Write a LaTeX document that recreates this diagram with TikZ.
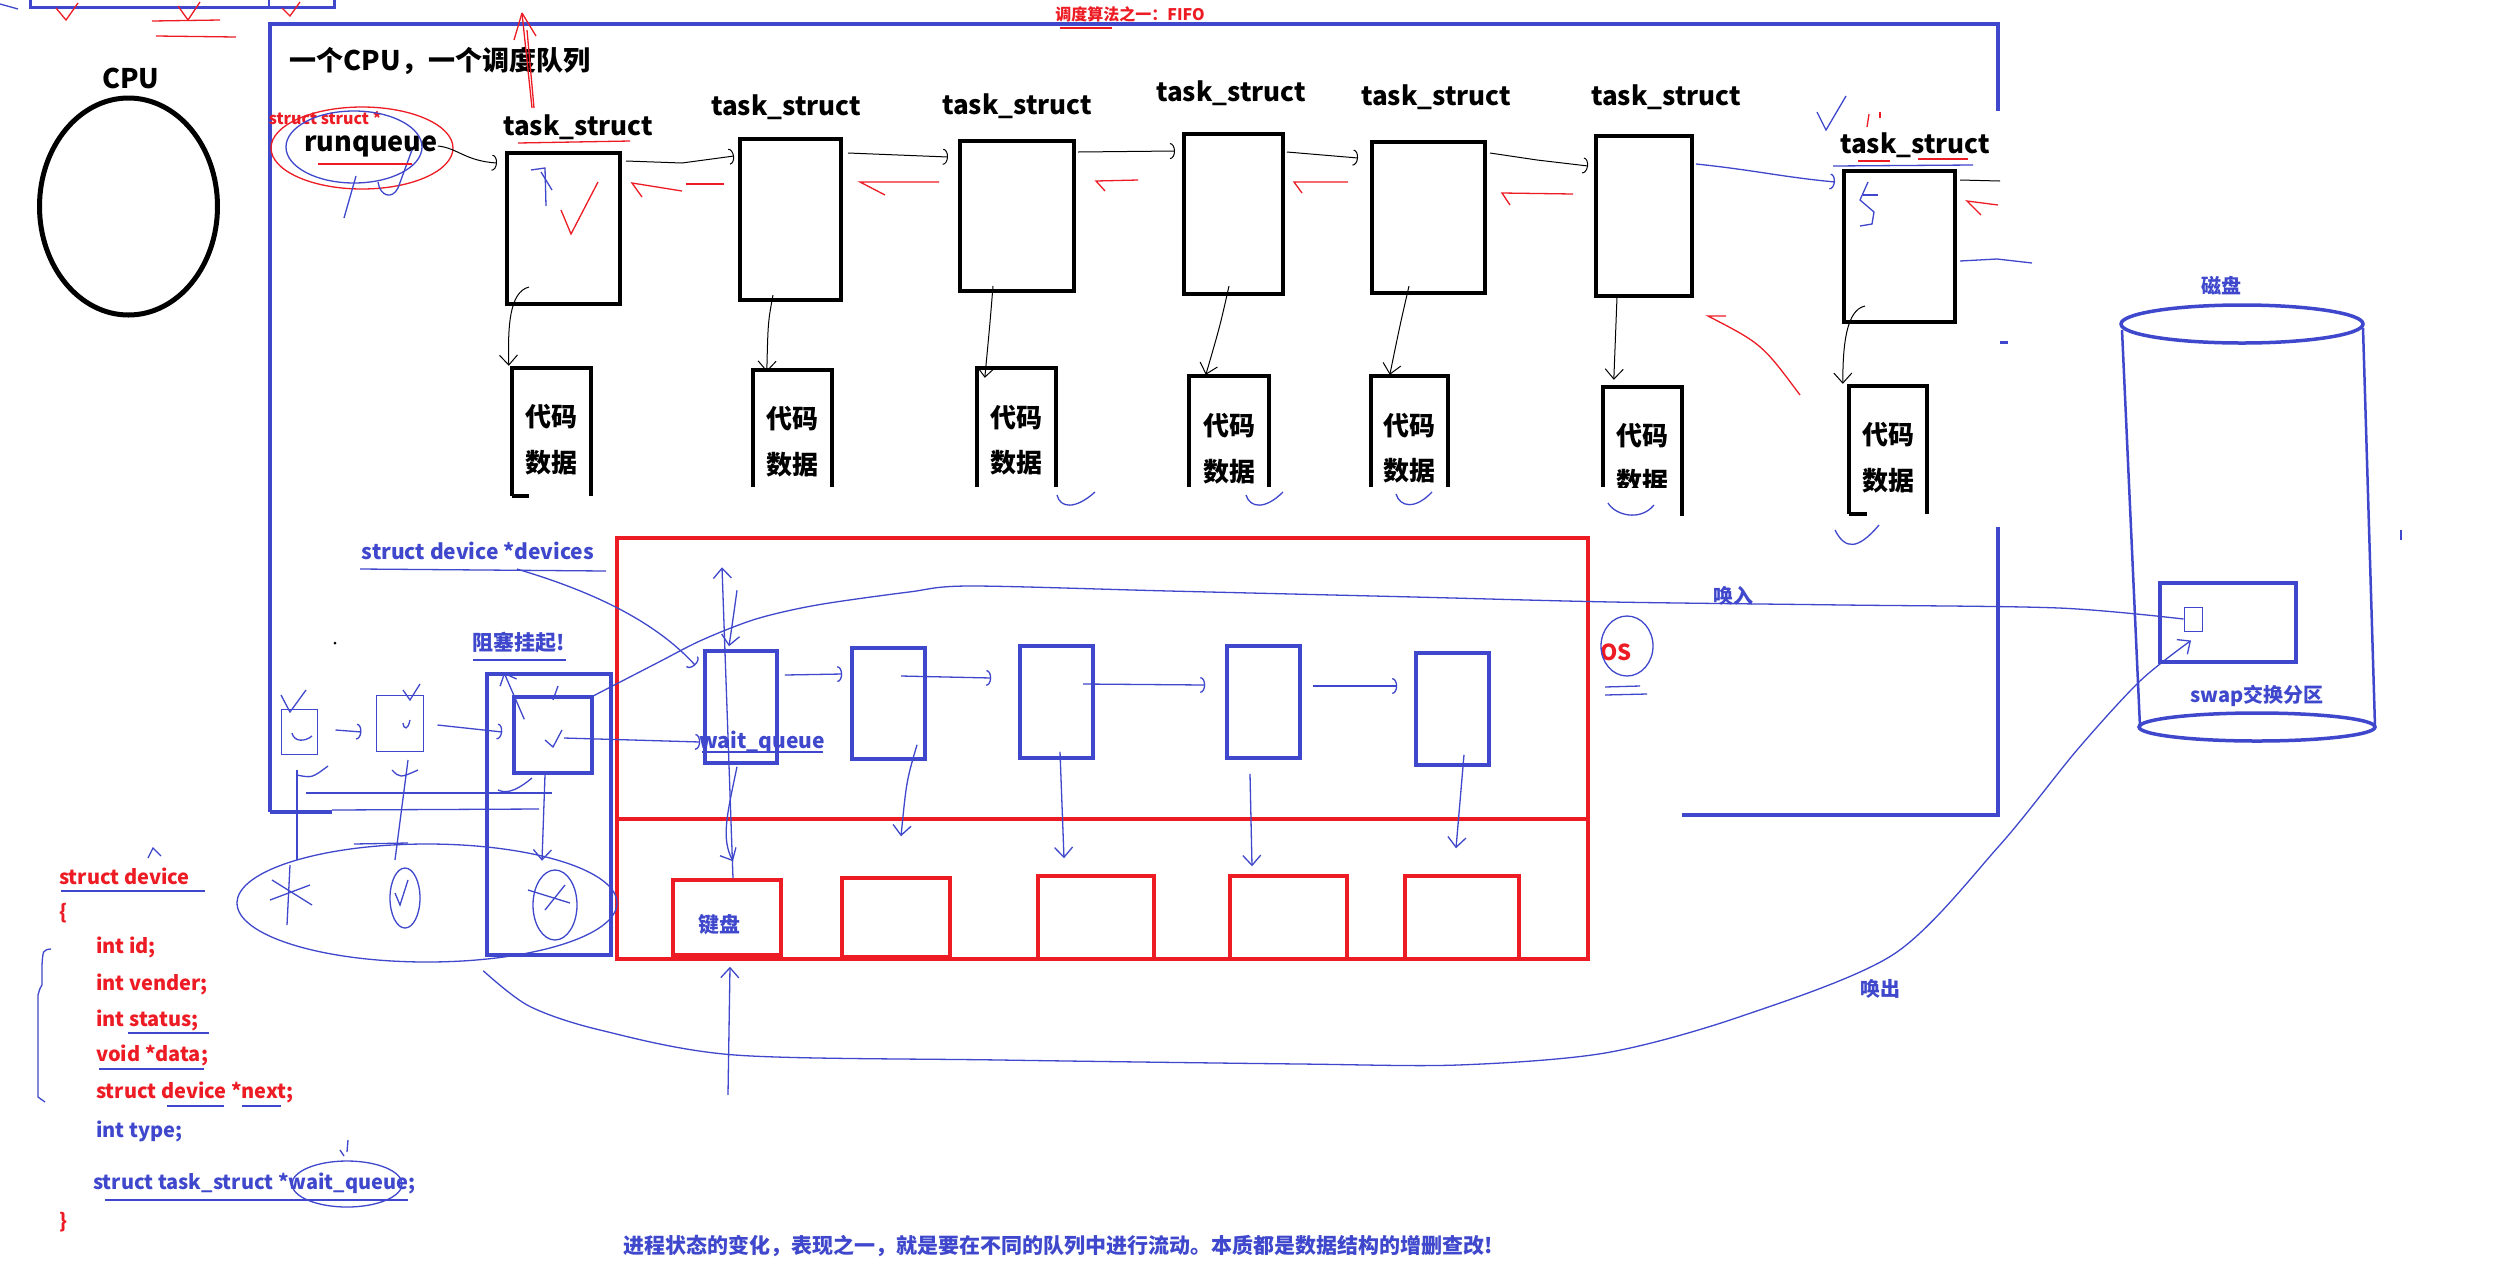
\documentclass[tikz,border=0pt]{standalone}
\usepackage{fontspec}
\setmainfont{Noto Sans CJK SC}
\usetikzlibrary{arrows.meta,calc,shapes.geometric}
\definecolor{pblue}{RGB}{63,72,204}
\definecolor{pred}{RGB}{237,28,36}
\newcommand\fpx[1]{\fontsize{#1pt}{#1pt}\selectfont}
\tikzset{
  blk/.style={draw=black, line width=1pt},
  thinb/.style={draw=pblue, line width=1.3pt},
  thinr/.style={draw=pred, line width=1.3pt},
  ah/.style={-{Arc Barb[length=5pt,width=16pt]}},
  vh/.style={-{Straight Barb[length=10pt,width=18pt]}},
  tbox/.style={draw=black, line width=4pt, inner sep=0pt},
  cbox/.style={draw=black, line width=3.5pt},
  bbox/.style={draw=pblue, line width=3.5pt, inner sep=0pt},
  rbox/.style={draw=pred, line width=3.5pt, inner sep=0pt},
  frame/.style={draw=pblue, line width=3.5pt},
  lbl/.style={font=\fpx{26}\bfseries, text=black, inner sep=0pt},
  cd/.style={font=\fpx{26}\bfseries, text=black, inner sep=0pt},
  bl/.style={font=\fpx{21}\bfseries, text=pblue, inner sep=0pt},
  code/.style={font=\fpx{20}\bfseries, inner sep=0pt, anchor=west},
  hole/.style={inner sep=0pt},
}
\begin{document}
\begin{tikzpicture}[x=1pt,y=-1pt]
\fill[white] (0,0) rectangle (2506,1270);
\useasboundingbox (0,0) rectangle (2506,1270);

% ---------- top-left fragment ----------
\draw[pblue, line width=3pt] (30,0) -- (30,7) -- (334,7) -- (334,0);
\draw[pblue, line width=2pt] (269,0) -- (269,7);
\draw[thinb] (0,4) -- (18,9);
\draw[thinr] (56,8) -- (66,20) -- (78,3);
\draw[thinr] (178,6) -- (188,20) -- (200,2);
\draw[thinr] (282,8) -- (290,16) -- (300,2);
\draw[thinr] (152,21) -- (220,20);
\draw[thinr] (156,36) -- (236,37);

% ---------- CPU ----------
\node[lbl, font=\fpx{27}\bfseries] (cpu) at (131,78) {CPU};
\node[draw=black, line width=5pt, ellipse, inner sep=0pt, minimum width=178pt, minimum height=217pt] (cpuE) at (128.5,206.5) {};

% ---------- big blue frame ----------
\draw[frame] (270,812) -- (270,24) -- (1998,24) -- (1998,111);
\draw[frame] (1998,527) -- (1998,815) -- (1682,815);
\draw[frame] (270,812) -- (332,812);
\draw[pblue, line width=3pt] (2000,342) -- (2008,342);
\draw[pblue, line width=2pt] (2401,530) -- (2401,540);

\node[font=\fpx{16}\bfseries, text=pred, inner sep=0pt] (fifo) at (1130,14) {调度算法之一：FIFO};
\draw[thinr] (1060,28) -- (1112,28);

\node[lbl, font=\fpx{27}\bfseries] (title) at (440,61) {一个CPU，一个调度队列};

% ---------- runqueue ----------
\node[lbl, font=\fpx{27}\bfseries] (rq) at (371,146) {runqueue};
\node[font=\fpx{16}\bfseries, text=pred, inner sep=0pt] (ss) at (325,118) {struct struct *};
\draw[thinr] (362,148) ellipse [x radius=91pt, y radius=41pt];
\draw[thinb] (354,147) ellipse [x radius=68pt, y radius=36pt];
\draw[thinb] (344,218) -- (356,176);
\draw[thinb] (378,182) .. controls (380,196) and (392,200) .. (398,188) -- (412,150);
\draw[thinr] (318,164) -- (412,164);

% ---------- task_structs ----------
\node[tbox, minimum width=113pt, minimum height=151pt] (T1) at (563.5,228.5) {};
\node[tbox, minimum width=101pt, minimum height=161pt] (T2) at (790.5,219.5) {};
\node[tbox, minimum width=114pt, minimum height=150pt] (T3) at (1017,216) {};
\node[tbox, minimum width=99pt, minimum height=160pt] (T4) at (1233.5,214) {};
\node[tbox, minimum width=113pt, minimum height=151pt] (T5) at (1428.5,217.5) {};
\node[tbox, minimum width=96pt, minimum height=160pt] (T6) at (1644,216) {};
\node[tbox, minimum width=111pt, minimum height=151pt] (T7) at (1899.5,246.5) {};

\node[lbl] (L1) at (578,127) {task\_struct};
\node[lbl] (L2) at (786,107) {task\_struct};
\node[lbl] (L3) at (1017,106) {task\_struct};
\node[lbl] (L4) at (1231,93) {task\_struct};
\node[lbl] (L5) at (1436,97) {task\_struct};
\node[lbl] (L6) at (1666,97) {task\_struct};
\node[lbl] (L7) at (1915,145) {task\_struct};
\draw[thinr] (518,143) -- (630,141);
\draw[thinb] (1833,166) -- (1973,165);
\draw[thinr] (1858,161) -- (1890,161);
\draw[thinr] (1918,159) -- (1968,159);
\draw[thinb] (1817,112) -- (1826,130) -- (1846,96);
\draw[thinr] (1867,127) -- (1869,114);
\draw[thinr] (1880,112) -- (1880,118);

% red arrow scribble above T1
\draw[thinr] (532,108) -- (522,13);
\draw[thinr] (522,13) -- (536,36);
\draw[thinr] (522,13) -- (514,40);
\draw[thinr] (527,30) -- (534,108);

% checks inside boxes
\draw[thinb] (531,170) -- (545,168) -- (546,206);
\draw[thinb] (541,172) -- (552,190);
\draw[thinr] (561,210) -- (571,234) -- (598,182);
\draw[thinb] (1868,182) -- (1860,200) -- (1874,212) -- (1872,224) -- (1860,226);
\draw[thinb] (1863,195) -- (1878,195);

% runqueue -> T1
\draw[blk, ah] (rq.east) .. controls ($(rq.east)+(20,2)$) and ($(T1.north west)+(-40,10)$) .. ($(T1.north west)+(-8,12)$);

% forward links
\draw[blk, ah] ($(T1.north east)+(4,10)$) -- ($(T1.north east)+(60,12)$) -- ($(T2.north west)+(-4,19)$);
\draw[blk, ah] ($(T2.north east)+(5,16)$) -- ($(T3.north west)+(-10,18)$);
\draw[blk, ah] ($(T3.north east)+(2,13)$) -- ($(T4.north west)+(-7,19)$);
\draw[blk, ah] ($(T4.north east)+(2,20)$) -- ($(T5.north west)+(-12,18)$);
\draw[blk, ah] ($(T5.north east)+(3,13)$) -- ($(T5.north east)+(50,20)$) -- ($(T6.north west)+(-6,32)$);
\draw[thinb, ah] ($(T6.north east)+(2,30)$) .. controls ($(T6.north east)+(60,36)$) and ($(T7.north west)+(-60,8)$) .. ($(T7.north west)+(-7,13)$);
\draw[blk] ($(T7.north east)+(3,11)$) -- ($(T7.north east)+(43,12)$);
\draw[thinb] ($(T7.north east)+(3,92)$) -- ($(T7.north east)+(40,90)$) -- ($(T7.north east)+(75,94)$);

% backward red links
\draw[thinr] ($(T2.north west)+(-14,47)$) -- ($(T2.north west)+(-52,47)$);
\draw[thinr] ($(T2.north west)+(-56,54)$) -- ($(T1.north east)+(10,32)$) -- ++(10,14);
\draw[thinr] ($(T3.north west)+(-19,43)$) -- ($(T2.north east)+(17,45)$) -- ++(25,13);
\draw[thinr] ($(T4.north west)+(-44,48)$) -- ($(T3.north east)+(20,42)$) -- ++(9,10);
\draw[thinr] ($(T5.north west)+(-22,42)$) -- ($(T4.north east)+(9,50)$) -- ++(8,11);
\draw[thinr] ($(T6.north west)+(-21,60)$) -- ($(T5.north east)+(15,53)$) -- ++(8,12);
\draw[thinr] ($(T7.north east)+(41,36)$) -- ($(T7.north east)+(10,32)$) -- ++(14,14);
\draw[thinr] ($(T7.south west)+(-42,71)$) .. controls ($(T7.south west)+(-80,20)$) .. ($(T7.south west)+(-134,-8)$) -- ++(18,0);

% ---------- code / data boxes ----------
\node[hole, minimum width=79pt, minimum height=128pt] (C1) at (551.5,432) {};
\node[hole, minimum width=79pt, minimum height=117pt] (C2) at (792.5,428.5) {};
\node[hole, minimum width=79pt, minimum height=119pt] (C3) at (1016.5,427.5) {};
\node[hole, minimum width=80pt, minimum height=111pt] (C4) at (1229,431.5) {};
\node[hole, minimum width=77pt, minimum height=111pt] (C5) at (1409.5,431.5) {};
\node[hole, minimum width=79pt, minimum height=100pt] (C6) at (1642.5,437) {};
\node[hole, minimum width=78pt, minimum height=128pt] (C7) at (1888,450) {};
\foreach \c in {C1,C2,C3,C4,C5,C6,C7}{
  \draw[cbox] (\c.south west) -- (\c.north west) -- (\c.north east) -- (\c.south east);
}
\draw[cbox] (C1.south west) -- ++(17,0);
\draw[cbox] (C7.south west) -- ++(18,0);
\draw[cbox] (C6.south east) -- ++(0,29);

\node[cd] (C1a) at (551.5,417) {代码};  \node[cd] (C1b) at (551.5,463) {数据};
\node[cd] (C2a) at (792.5,419) {代码};  \node[cd] (C2b) at (792.5,465) {数据};
\node[cd] (C3a) at (1016.5,418) {代码}; \node[cd] (C3b) at (1016.5,463) {数据};
\node[cd] (C4a) at (1229,426) {代码};   \node[cd] (C4b) at (1229,472) {数据};
\node[cd] (C5a) at (1409.5,426) {代码}; \node[cd] (C5b) at (1409.5,471) {数据};
\node[cd] (C6a) at (1642.5,436) {代码};
\begin{scope}
  \clip (1590,440) rectangle (1700,487);
  \node[cd] (C6b) at (1642.5,482) {数据};
\end{scope}
\node[cd] (C7a) at (1888,435) {代码};   \node[cd] (C7b) at (1888,481) {数据};

% task_struct -> code arrows
\draw[blk, vh] ($(T1.south west)+(24,-19)$) .. controls ($(T1.south west)+(4,-14)$) and ($(C1.north west)+(-4,-40)$) .. ($(C1.north west)+(-3,-2)$);
\draw[blk, vh] ($(T2.south west)+(35,-7)$) .. controls ($(T2.south west)+(30,20)$) .. ($(C2.north west)+(14,2)$);
\draw[blk, vh] ($(T3.south west)+(35,-7)$) .. controls ($(T3.south west)+(32,30)$) .. ($(C3.north west)+(8,10)$);
\draw[blk, vh] ($(T4.south west)+(47,-10)$) .. controls ($(T4.south west)+(38,30)$) .. ($(C4.north west)+(17,-1)$);
\draw[blk, vh] ($(T5.south west)+(39,-9)$) .. controls ($(T5.south west)+(30,30)$) .. ($(C5.north west)+(19,-1)$);
\draw[blk, vh] ($(T6.south west)+(23,-1)$) -- ($(C6.north west)+(11,-7)$);
\draw[blk, vh] ($(T7.south west)+(23,-18)$) .. controls ($(T7.south west)+(4,-14)$) and ($(C7.north west)+(-6,-40)$) .. ($(C7.north west)+(-6,-2)$);

% checks under code boxes
\draw[thinb] (1057,495) .. controls (1060,508) and (1075,510) .. (1095,492);
\draw[thinb] (1246,495) .. controls (1250,508) and (1265,510) .. (1283,492);
\draw[thinb] (1396,494) .. controls (1400,507) and (1415,510) .. (1432,492);
\draw[thinb] (1608,503) .. controls (1615,515) and (1640,522) .. (1654,505);
\draw[thinb] (1835,530) .. controls (1845,550) and (1858,550) .. (1879,525);

% ---------- OS red region ----------
\node[rbox, minimum width=971pt, minimum height=421pt] (OSR) at (1102.5,748.5) {};
\draw[rbox] ($(OSR.west)+(0,70.5)$) -- ($(OSR.east)+(0,70.5)$);
\node[font=\fpx{22}\bfseries, text=pred, inner sep=0pt] (os) at (1616,652) {OS};
\draw[thinb] (1627,646) ellipse [x radius=26pt, y radius=30pt];
\draw[thinb] (1605,687) -- (1640,686);
\draw[thinb] (1605,695) -- (1647,694);

\node[bbox, minimum width=72pt, minimum height=112pt] (B1) at (741,707) {};
\node[bbox, minimum width=73pt, minimum height=111pt] (B2) at (888.5,703.5) {};
\node[bbox, minimum width=73pt, minimum height=112pt] (B3) at (1056.5,702) {};
\node[bbox, minimum width=73pt, minimum height=112pt] (B4) at (1263.5,702) {};
\node[bbox, minimum width=73pt, minimum height=112pt] (B5) at (1452.5,709) {};

\node[rbox, minimum width=108pt, minimum height=75pt] (R1) at (727,917.5) {};
\node[rbox, minimum width=108pt, minimum height=79pt] (R2) at (896,917.5) {};
\node[rbox, minimum width=116pt, minimum height=83pt] (R3) at (1096,917.5) {};
\node[rbox, minimum width=117pt, minimum height=83pt] (R4) at (1288.5,917.5) {};
\node[rbox, minimum width=114pt, minimum height=83pt] (R5) at (1462,917.5) {};
\node[bl] (kb) at (719,925) {键盘};

% wait queue links
\draw[thinb, ah] ($(B1.east)+(6,-32)$) -- ($(B2.west)+(-8,-29.5)$);
\draw[thinb, ah] ($(B2.center)+(12.5,-27.5)$) -- ($(B3.west)+(-27,-24)$);
\draw[thinb, ah] ($(B3.center)+(26.5,-18)$) -- ($(B4.west)+(-20,-17)$);
\draw[thinb, ah] ($(B4.east)+(11,-16)$) -- ($(B5.west)+(-17,-23)$);
\draw[thinb, vh] ($(B2.south)+(28.5,-16)$) .. controls ($(B2.south)+(18,20)$) .. ($(R2.north)+(5,-40)$);
\draw[thinb, vh] ($(B3.south)+(3.5,-8)$) -- ($(R3.north)+(-32,-16)$);
\draw[thinb, vh] ($(B4.south)+(-13.5,14)$) -- ($(R4.north)+(-36.5,-8)$);
\draw[thinb, vh] ($(B5.south)+(11.5,-12)$) -- ($(R5.north)+(-6,-26)$);
\draw[thinb, vh] ($(R1.north)+(6,0)$) -- ($(B1.north)+(-19,-82)$);
\draw[thinb, vh] ($(B1.north)+(-4,-59)$) .. controls ($(B1.north)+(-8,-30)$) .. ($(B1.north)+(-12,-3)$);
\draw[thinb, vh] ($(B1.south)+(-4,2)$) .. controls ($(B1.south)+(-14,50)$) and ($(R1.north)+(-6,-40)$) .. ($(R1.north)+(6,-17)$);
\draw[thinb, vh] ($(R1.south)+(1,138)$) -- ($(R1.south)+(3,10)$);

\node[bl] (wq) at (762,742) {wait\_queue};
\draw[thinb] (702,752) -- (823,752);

% ---------- device area ----------
\node[bbox, minimum width=124pt, minimum height=281pt] (Dout) at (549,814.5) {};
\node[bbox, minimum width=78pt, minimum height=76pt] (Din) at (553,735) {};
\node[bl] (zs) at (519,642) {阻塞挂起!};
\draw[thinb] (473,660) -- (566,660);
\node[bl] (dev) at (478,551) {struct device *devices};
\draw[thinb] (360,569) -- (606,571);

\node[draw=pblue, line width=1pt, inner sep=0pt, minimum width=36pt, minimum height=45pt] (S1) at (299,731.5) {};
\node[draw=pblue, line width=1pt, inner sep=0pt, minimum width=47pt, minimum height=56pt] (S2) at (399.5,723) {};
\draw[thinb, ah] ($(S1.east)+(18,-1.5)$) -- ($(S2.west)+(-14,9)$);
\draw[thinb, ah] ($(S2.east)+(14,2)$) -- ($(Din.west)+(-10,-3)$);
\draw[thinb, ah] ($(Din.center)+(11,3)$) -- ($(B1.west)+(-3,35)$);
\draw[thinb, vh] ($(Din.south)+(-8,0)$) -- ($(Din.south)+(-11,86)$);
\draw[thinb, vh] ($(Din.north west)+(12,24)$) -- ($(zs.south)+(-15,20)$);
\draw[thinb, ah] ($(dev.south)+(39,9)$) .. controls ($(dev.south)+(110,30)$) and ($(B1.north west)+(-50,-30)$) .. ($(B1.north west)+(-8,16)$);

% checks in device area
\draw[thinb] (281,695) -- (290,712) -- (306,690);
\draw[thinb] (292,733) .. controls (294,742) and (305,742) .. (312,736);
\draw[thinb] (403,690) -- (410,700) -- (420,684);
\draw[thinb] (403,723) .. controls (404,730) and (408,730) .. (410,720);
\draw[thinb] (545,740) -- (553,747) -- (562,730);
\draw[thinb] (553,700) -- (558,686);
\fill[black] (335,643) circle (1.5pt);

\draw[thinb] (306,793) -- (552,793);
\draw[thinb] (332,810) -- (539,809);
\draw[thinb] (354,844) -- (408,843);
\draw[thinb] (297,770) -- (297,860);
\draw[thinb] (297,775) .. controls (312,778) .. (328,766);
\draw[thinb] (408,760) -- (395,860);
\draw[thinb] (392,770) .. controls (400,778) .. (418,770);
\draw[thinb] (498,790) .. controls (508,795) and (520,788) .. (532,778);

\draw[thinb] (427,903) ellipse [x radius=190pt, y radius=59pt];
\draw[thinb] (290,865) -- (287,925);
\draw[thinb] (272,880) -- (312,905);
\draw[thinb] (270,900) -- (310,885);
\draw[thinb] (405,898) ellipse [x radius=15pt, y radius=30pt];
\draw[thinb] (395,893) -- (400,905) -- (408,880);
\draw[thinb] (555,905) ellipse [x radius=22pt, y radius=35pt];
\draw[thinb] (528,890) -- (570,903);
\draw[thinb] (545,910) -- (565,885);
\draw[thinb] (148,858) -- (153,848) -- (161,856);

% ---------- disk ----------
\draw[pblue, line width=3.5pt] (2242,324) ellipse [x radius=121pt, y radius=19pt];
\draw[pblue, line width=3.5pt] (2257,727) ellipse [x radius=118pt, y radius=14pt];
\draw[pblue, line width=2.5pt] (2122,330) -- (2140,727);
\draw[pblue, line width=2.5pt] (2363,328) -- (2375,727);
\node[bl, font=\fpx{20}\bfseries] (disk) at (2221,286) {磁盘};
\node[bbox, minimum width=136pt, minimum height=79pt] (SWP) at (2228,622.5) {};
\node[draw=pblue, line width=1pt, inner sep=0pt, minimum width=18pt, minimum height=24pt] (SWi) at (2193,619) {};
\node[bl, font=\fpx{20}\bfseries] (swap) at (2257,696) {swap交换分区};

% swap in / swap out
\draw[thinb] plot[smooth] coordinates {(SWi.west) (2059,608) (1844,605) (1612,602) (1414,597) (1169,591) (970,586) (909,592) (817,605) (756,619) (702,640) (657,663) ($(Din.north east)+(-5,3)$)};
\node[bl, font=\fpx{20}\bfseries] (win) at (1733,596) {唤入};
\draw[thinb, vh] plot[smooth] coordinates {($(Dout.south west)+(-2,14)$) (529,1006) (600,1030) (735,1055) (1000,1060) (1300,1064) (1458,1065) (1605,1053) (1739,1017) (1894,954) (1999,846) (2077,750) (2140,681) ($(SWi.south)+(-2,9)$)};
\node[bl, font=\fpx{20}\bfseries] (wout) at (1880,989) {唤出};

% ---------- struct device code ----------
\node[code, text=pred] (k1) at (59,876) {struct device};
\draw[thinb] (61,891) -- (205,891);
\node[code, text=pred] (k2) at (59,913) {\{};
\node[code, text=pred] (k3) at (96,947) {int id;};
\node[code, text=pred] (k4) at (96,984) {int vender;};
\node[code, text=pred] (k5) at (96,1020) {int status;};
\draw[thinb] (128,1033) -- (209,1033);
\node[code, text=pred] (k6) at (96,1055) {void *data;};
\draw[thinb] (99,1069) -- (204,1069);
\node[code, text=pred] (k7) at (96,1092) {struct device *next;};
\draw[thinb] (167,1106) -- (224,1106);
\draw[thinb] (242,1106) -- (281,1106);
\node[code, text=pblue] (k8) at (96,1131) {int type;};
\node[code, text=pblue] (k9) at (93,1183) {struct task\_struct *wait\_queue;};
\draw[thinb] (105,1200) -- (408,1200);
\draw[thinb] (347,1184) ellipse [x radius=55pt, y radius=23pt];
\draw[thinb] (348,1140) -- (347,1152);
\draw[thinb] (340,1150) -- (344,1156);
\node[code, text=pred] (k10) at (59,1222) {\}};
\draw[thinb] (51,949) .. controls (43,950) .. (42,965) -- (42,985) .. controls (40,988) .. (38,995) -- (38,1097) -- (45,1102);

% ---------- bottom sentence ----------
\node[bl] (sum) at (1058,1246) {进程状态的变化，表现之一，就是要在不同的队列中进行流动。本质都是数据结构的增删查改!};
\end{tikzpicture}
\end{document}
